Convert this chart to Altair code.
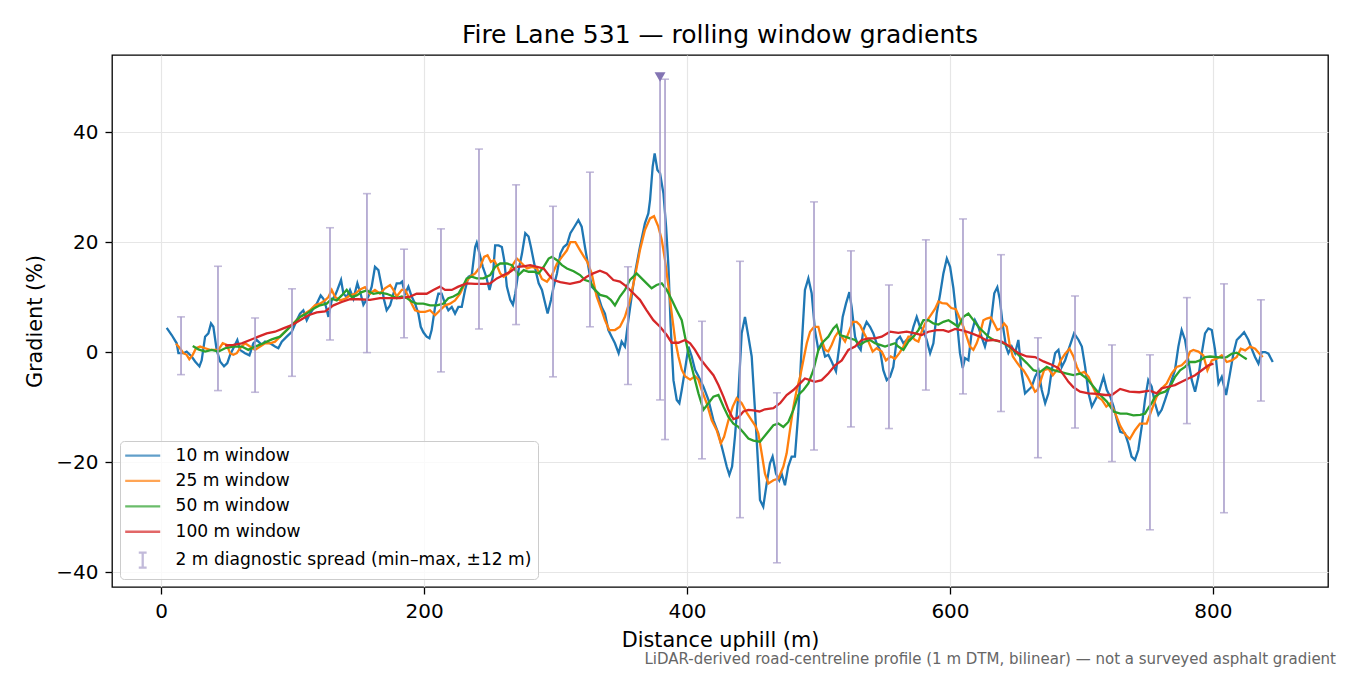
import altair as alt
import pandas as pd

TITLE = "Fire Lane 531 — rolling window gradients"
X_TITLE = "Distance uphill (m)"
Y_TITLE = "Gradient (%)"
FOOTNOTE = "LiDAR-derived road-centreline profile (1 m DTM, bilinear) — not a surveyed asphalt gradient"

SERIES = ["10 m window", "25 m window", "50 m window", "100 m window",
          "2 m diagnostic spread (min–max, ±12 m)"]
COLORS = ["#1f77b4", "#ff7f0e", "#2ca02c", "#d62728", "#a99ecb"]
MARKER_COLOR = "#8374b3"

x_ticks = [0, 200, 400, 600, 800]
y_ticks = [-40, -20, 0, 20, 40]

# 10 m window (distance m, gradient %)
w10 = [(4.3,4.4),(8.1,3.1),(11.9,1.6),(13.2,-0.2),(17,-0.2),(19.5,0.1),(23.3,-0.8),(25.9,-1.7),(29.2,-2.6),(30.9,-1.5),
       (33.5,2.8),(36,3.4),(38,5.2),(39.8,4.6),(42.3,0.4),(44.9,-1.7),(47.9,-2.6),(50.4,-2.0),(52.5,-0.5),(55,0.7),
       (58,2.2),(60,0.4),(63.9,-0.2),(67.2,-0.6),(70.2,1.6),(72.7,2.2),(76.6,1.3),(79.1,1.9),(82.9,1.6),(86.7,1.0),
       (89.2,0.7),(91.8,1.9),(95.6,2.8),(99.4,3.7),(103.2,5.8),(105.7,7.0),(108.2,7.6),(110.8,5.8),(113.3,7.0),(115.9,7.9),
       (118.4,8.8),(121.4,10.3),(123.5,9.7),(125.5,8.2),(127.3,6.4),(129.8,9.4),(132.4,10.3),(134.1,11.3),(136.9,13.1),(138.7,10.6),
       (141.2,10.0),(143.7,11.3),(146.3,9.7),(149.3,12.5),(151.9,10.5),(153.9,8.6),(157.7,10.1),(160.2,11.9),(162.7,15.5),(165.3,14.9),
       (167.8,11.9),(169.6,9.5),(171.6,7.6),(174.2,8.5),(176.7,10.6),(179.2,12.5),(181.8,12.5),(183.3,12.8),(185.6,10.6),(188.1,11.9),
       (190.6,10.1),(193.2,8.8),(195.7,7.0),(197.5,4.6),(199.5,3.6),(202.0,2.8),(204.1,2.5),(205.8,4.0),(208.4,8.2),(210.9,10.6),
       (213.4,10.6),(216.0,8.8),(218.5,7.6),(221.1,8.2),(223.6,7.0),(226.1,8.2),(228.7,8.2),(231.2,11.3),(233.8,13.7),(236.3,14.0),
       (238.9,19.1),(240.1,19.9),(242.2,17.9),(244.7,15.5),(247.3,13.7),(249.8,11.3),(252.3,13.7),(254.1,19.4),(256.7,19.4),(259.2,19.1),
       (261.0,16.7),(263.0,11.9),(265.6,9.5),(267.6,8.6),(269.4,10.6),(271.9,14.9),(274.5,17.9),(277.0,21.6),(279.5,21.0),(281.3,19.1),
       (283.3,16.7),(285.4,14.3),(287.2,12.5),(289.7,11.3),(292.2,8.8),(294.0,7.0),(296.6,9.5),(298.6,11.9),(301.1,14.3),(303.7,17.9),
       (306.2,19.1),(308.8,19.6),(311.3,21.6),(313.9,22.6),(317.4,24.0),(319.9,22.8),(322.4,19.1),(325.0,15.5),(327.5,11.9),(330.0,11.3),
       (332.6,10.1),(335.1,8.2),(337.6,7.0),(340.2,4.0),(342.7,2.8),(345.2,1.6),(348.0,-0.2),(350.3,1.9),(352.8,1.0),(355.4,5.8),
       (357.9,10.1),(360.4,14.3),(364.2,19.1),(368.0,23.4),(370.6,25.2),(371.9,27.6),(373.9,33.7),(375.4,36.1),(377.5,33.1),(379.5,32.5),
       (382.1,28.8),(384.1,22.8),(385.9,15.5),(387.6,4.6),(389.7,-5.1),(392.2,-8.7),(394.2,-9.3),(396.0,-6.9),(398.5,-3.2),(401.1,1.0),
       (403.6,-0.8),(406.1,-3.2),(408.7,-4.4),(412.5,-6.3),(416.3,-8.7),(420.1,-12.4),(423.9,-14.8),(427.7,-18.4),(430.2,-20.8),(432.2,-22.3),
       (434.3,-20.8),(436.5,-15.3),(439.1,-7.5),(441.6,3.4),(444.1,6.4),(446.7,2.8),(449.2,-0.8),(451.7,-10.5),(454.3,-21.4),(455.5,-26.9),
       (458.0,-28.1),(460.6,-23.9),(463.1,-20.2),(465.1,-19.0),(467.7,-22.1),(470.2,-23.3),(472.0,-22.1),(474.5,-24.2),(477.0,-20.8),(479.6,-19.0),
       (482.1,-19.0),(484.6,-11.2),(487.2,1.0),(489.7,11.3),(492.3,13.4),(494.8,10.7),(497.3,4.0),(499.9,0.4),(502.4,1.6),(505.0,-0.8),
       (507.5,-0.5),(510.0,-1.7),(513.3,-3.5),(515.8,1.0),(518.4,6.4),(520.9,8.8),(523.5,10.9),(525.2,8.2),(527.8,2.8),(530.3,1.0),
       (532.1,0.4),(534.1,4.0),(536.6,5.5),(539.2,4.6),(541.7,3.4),(544.2,1.6),(546.8,0.4),(549.3,-3.3),(551.9,-5.1),(554.4,-4.5),
       (556.9,-2.7),(559.5,2.2),(562.0,2.8),(564.6,1.6),(567.1,2.2),(569.6,2.2),(572.2,4.6),(574.7,6.4),(577.2,4.6),(579.8,4.0),
       (582.3,2.2),(584.9,-0.2),(587.4,1.6),(589.9,7.0),(592.5,10.5),(595.0,14.3),(597.6,17.0),(600.1,15.5),(602.6,11.6),(605.2,5.8),
       (607.6,-0.2),(609.7,-2.9),(611.4,-1.1),(614.0,-1.5),(616.4,3.4),(619.0,5.8),(621.6,4.6),(624.0,2.8),(626.6,1.0),(629.1,3.4),
       (631.6,6.4),(633.7,10.7),(636.0,11.8),(638.0,9.5),(640.0,5.2),(642.6,1.0),(644.4,-0.2),(647.0,1.0),(649.5,-0.2),(652.0,2.2),
       (654.6,-3.9),(657.1,-7.5),(659.7,-6.9),(662.2,-6.3),(664.7,-4.5),(667.3,-3.3),(669.8,-6.9),(672.4,-9.3),(674.9,-7.5),(677.4,-3.3),
       (680.0,-0.2),(682.5,0.4),(685.0,-2.7),(687.6,-1.5),(690.1,0.4),(692.7,2.2),(694.4,3.4),(697.8,2.2),(700.3,1.0),(702.8,-2.7),
       (705.4,-7.5),(707.9,-9.9),(710.5,-8.7),(713.0,-7.5),(716.8,-4.5),(719.3,-6.9),(721.9,-8.1),(724.4,-9.9),(727.0,-12.4),(729.5,-14.5),
       (733.1,-14.8),(735.6,-16.6),(738.1,-19.0),(740.7,-19.6),(743.2,-17.8),(745.8,-13.6),(748.3,-8.7),(750.8,-5.1),(753.4,-6.3),(755.9,-9.3),
       (758.5,-11.4),(761.0,-10.5),(763.6,-8.7),(766.0,-6.9),(768.6,-5.1),(771.1,-3.3),(773.7,1.0),(776.2,4.0),(778.8,2.2),(781.3,-1.5),
       (783.9,-5.1),(786.4,-7.2),(788.9,-4.5),(791.5,-0.2),(794.0,3.4),(796.5,4.3),(799.1,4.0),(801.6,0.4),(804.2,-5.7),(806.7,-4.5),
       (810.0,-7.8),(812.5,-4.5),(815.6,-0.2),(818.1,2.2),(820.6,2.8),(823.7,3.6),(827.0,2.2),(829.5,0.6),(832.0,-0.9),(834.6,-2.1),
       (837.1,0.0),(839.7,0.0),(842.2,-0.3),(845.5,-1.8)]

# 25 m window
w25 = [(11.4,1.5),(14.4,0.7),(17,-0.2),(19.5,-0.5),(21.5,-1.3),(24.1,-0.5),(26.6,0.7),(29.7,1.0),(33.5,0.7),(37.3,0.4),
       (41.1,0.4),(43.6,0.4),(46.9,1.6),(50,1.3),(52.5,-0.2),(55,-0.5),(57.6,-0.2),(60.1,0.7),(63.9,1.6),(67.7,1.0),
       (71.5,0.4),(75.3,1.0),(79.1,1.6),(82.9,1.6),(86.7,1.9),(90.5,2.8),(94.3,3.7),(98.1,4.6),(101.9,5.5),(105.7,6.4),
       (109.5,7.0),(113.3,7.6),(117.1,8.5),(120.9,8.8),(124.7,9.4),(127.3,10.0),(129.8,11.3),(132.4,10.0),(136.1,9.4),(139.9,9.7),
       (143.7,10.3),(147.6,10.6),(151.4,11.4),(155.1,11.8),(158.9,10.6),(162.7,11.3),(166.5,10.6),(170.3,11.6),(174.2,12.2),(176.7,11.3),
       (179.2,10.1),(183.1,11.3),(185.6,11.3),(188.1,10.1),(190.6,8.8),(193.2,7.6),(197.0,7.3),(200.8,7.3),(204.6,7.6),(208.4,6.7),
       (212.2,7.6),(216.0,8.5),(219.8,8.8),(223.6,9.4),(227.4,10.6),(231.2,12.5),(235.1,13.7),(238.9,14.3),(242.7,15.5),(245.7,17.3),
       (248.3,17.6),(250.8,16.4),(253.3,16.7),(255.4,15.8),(257.9,14.3),(260.5,13.7),(264.3,14.3),(268.1,16.1),(270.6,17.0),(274.5,16.1),
       (278.3,15.2),(282.1,15.5),(285.9,15.2),(289.7,13.3),(293.5,12.8),(297.3,14.0),(301.1,16.1),(304.9,17.3),(308.7,18.5),(311.3,20.0),
       (315.1,20.0),(318.7,18.5),(321.7,17.3),(324.2,16.4),(327.5,14.3),(331.3,10.1),(335.1,7.6),(337.6,5.8),(340.9,4.0),(345.2,4.0),
       (349.0,4.6),(352.8,6.4),(356.6,9.4),(360.4,13.7),(364.2,18.5),(368.0,22.2),(371.9,24.3),(374.9,24.7),(378.2,22.8),(380.8,20.4),
       (383.3,16.7),(385.9,11.9),(388.4,7.0),(391.0,2.2),(393.5,-0.8),(396.0,-3.2),(398.5,-4.4),(402.4,-5.0),(406.1,-4.4),(408.7,-5.0),
       (411.2,-6.9),(415.0,-9.3),(418.8,-12.4),(422.6,-14.2),(425.7,-16.6),(428.2,-15.4),(431.5,-12.4),(434.8,-9.9),(437.8,-8.4),(441.6,-9.3),
       (445.4,-11.0),(449.2,-12.4),(452.0,-13.4),(454.3,-14.8),(456.8,-18.4),(459.3,-22.1),(461.9,-23.9),(465.7,-23.3),(469.5,-23.0),(473.3,-20.8),
       (475.8,-18.4),(478.3,-14.2),(480.9,-10.0),(483.4,-6.9),(486.0,-4.5),(488.5,-1.5),(491.1,1.6),(493.6,3.7),(496.6,4.6),(499.9,4.6),
       (502.4,2.2),(505.0,0.4),(507.5,0.1),(510.0,1.3),(512.6,2.8),(515.1,3.7),(517.7,2.8),(520.2,1.9),(522.7,3.4),(526.0,5.5),
       (529.0,5.5),(531.6,4.9),(534.7,3.4),(538.0,1.9),(541.2,0.1),(544.2,0.7),(548.1,0.1),(551.3,-1.5),(554.9,-0.8),(558.2,-1.2),
       (561.5,-0.2),(564.6,1.0),(568.4,2.8),(570.9,2.8),(573.5,2.2),(576.0,1.9),(578.5,3.7),(581.1,5.2),(583.6,6.1),(586.2,7.0),
       (588.7,7.9),(591.2,9.2),(594.0,8.9),(597.6,8.8),(601.0,8.0),(604.5,7.8),(607.3,6.2),(610.2,4.6),(612.7,2.8),(615.2,1.0),
       (617.8,0.4),(620.3,1.6),(622.9,3.4),(625.4,5.8),(627.9,6.1),(631.0,6.3),(633.5,5.2),(636.0,4.0),(638.6,4.3),(641.1,5.2),
       (643.2,4.6),(645.2,1.6),(647.8,-0.8),(650.3,-1.7),(653.4,-2.7),(655.9,-3.3),(659.0,-4.5),(662.2,-6.0),(664.7,-7.2),(666.5,-6.9),
       (669.1,-5.1),(671.6,-3.3),(674.9,-3.0),(678.2,-4.2),(681.2,-3.3),(684.3,-1.5),(687.6,-0.3),(690.9,0.6),(693.9,-0.8),(696.5,-2.7),
       (699.0,-3.9),(702.1,-3.6),(705.4,-4.5),(708.7,-6.3),(712.2,-8.1),(715.6,-8.7),(718.9,-9.9),(721.9,-9.3),(725.7,-11.1),(729.5,-13.4),
       (733.3,-15.0),(736.8,-15.8),(740.7,-14.2),(744.5,-13.0),(749.6,-13.0),(753.4,-10.5),(757.2,-8.1),(761.0,-6.6),(764.8,-5.7),(768.6,-3.9),
       (772.4,-2.7),(776.2,-2.4),(780.0,-1.5),(782.6,0.1),(785.1,0.4),(788.9,0.1),(792.7,-0.6),(795.8,-3.3),(799.1,-1.5),(802.9,-1.2),
       (806.7,-0.6),(810.5,-1.8),(814.3,-1.5),(818.1,-0.9),(821.2,0.6),(824.5,0.3),(828.3,1.0),(832.1,0.6),(835.4,-0.3),(837.9,-0.9)]

# 50 m window
w50 = [(24.1,1.1),(28.4,0.5),(33.5,0.1),(38.5,0.4),(43.6,0.1),(48.7,0.7),(55.0,1.0),(61.4,1.0),(66.4,0.4),(71.5,1.0),
       (77.8,1.6),(84.2,2.3),(90.5,2.8),(95.6,4.0),(100.7,5.2),(105.7,6.4),(110.8,7.0),(115.9,7.9),(120.9,8.5),(126.0,8.8),
       (129.8,9.7),(133.6,9.4),(137.4,10.3),(141.2,11.3),(145.0,10.0),(148.8,10.3),(152.7,10.9),(156.4,11.2),(161.5,10.6),(166.5,10.8),
       (171.6,10.6),(176.7,10.1),(179.2,9.8),(183.1,10.1),(186.9,9.8),(190.6,9.2),(194.4,8.8),(199.5,8.8),(204.6,8.5),(209.7,8.5),
       (214.7,8.8),(218.5,9.8),(222.3,10.1),(226.1,10.6),(230.0,12.2),(232.5,13.4),(236.3,13.7),(240.1,13.4),(245.2,13.4),(250.3,14.0),
       (254.1,15.5),(257.9,16.1),(263.0,16.1),(266.9,15.8),(269.4,14.9),(271.9,14.0),(275.8,14.9),(279.6,14.6),(283.4,14.6),(287.2,14.3),
       (291.0,15.5),(294.8,17.0),(297.3,17.3),(301.1,16.7),(304.9,15.8),(308.7,15.2),(313.8,14.7),(318.7,14.0),(322.4,13.1),(326.3,12.8),
       (330.0,11.3),(333.9,10.4),(338.9,10.1),(342.0,9.5),(345.2,8.5),(349.0,10.1),(352.8,11.3),(356.6,13.1),(361.7,14.3),(365.5,13.4),
       (369.3,12.5),(373.1,11.6),(376.9,12.2),(380.8,12.5),(384.6,11.3),(388.4,9.5),(392.2,7.6),(396.0,5.8),(398.5,2.8),(401.1,-0.2),
       (403.6,-2.7),(406.1,-5.1),(408.7,-7.5),(412.5,-10.5),(416.3,-9.3),(420.1,-8.1),(423.9,-7.8),(427.7,-9.9),(431.5,-11.8),(435.3,-13.0),
       (439.1,-13.6),(442.9,-14.6),(446.7,-15.7),(450.5,-16.1),(455.5,-16.3),(460.6,-14.8),(465.7,-13.3),(469.5,-13.0),(473.3,-13.6),(477.1,-12.7),
       (480.9,-10.5),(484.7,-7.8),(488.5,-6.9),(492.3,-5.7),(496.1,-3.3),(499.9,0.4),(503.7,1.9),(507.5,2.8),(511.3,4.3),(513.8,4.9),
       (516.4,3.1),(520.2,2.8),(524.0,2.5),(527.8,2.2),(531.6,1.3),(535.4,1.9),(539.2,2.2),(543.0,1.6),(546.8,1.3),(550.6,1.0),
       (554.4,1.3),(558.2,1.6),(560.7,1.0),(564.6,0.4),(568.4,1.9),(572.2,2.8),(576.0,4.0),(579.8,5.8),(583.6,5.8),(587.4,5.2),
       (591.2,5.0),(595.0,5.5),(598.9,5.8),(602.7,5.2),(606.3,4.6),(610.2,6.4),(614.0,7.0),(617.8,5.8),(621.6,4.6),(625.4,3.7),
       (629.2,2.8),(633.0,2.2),(638.1,1.9),(643.2,1.3),(648.2,0.4),(653.3,-0.8),(658.4,-2.0),(663.5,-3.3),(668.6,-3.6),(673.6,-2.7),
       (678.7,-3.3),(683.8,-3.6),(688.9,-3.9),(693.9,-4.2),(699.0,-3.9),(704.1,-4.8),(709.2,-6.3),(714.3,-7.8),(719.3,-9.0),(724.4,-10.8),
       (729.5,-11.2),(734.5,-11.2),(739.5,-11.5),(744.6,-11.4),(748.3,-11.2),(750.8,-10.2),(753.4,-9.3),(755.9,-8.1),(759.7,-7.5),(763.6,-7.2),
       (767.4,-6.3),(771.2,-4.5),(775.0,-3.3),(778.8,-2.7),(782.6,-1.8),(786.4,-1.8),(790.2,-1.5),(794.0,-0.9),(797.8,-0.8),(802.9,-0.9),
       (806.7,-1.0),(810.5,-0.9),(814.3,-0.3),(818.1,-0.1),(821.2,-0.6),(823.7,-1.0),(825.7,-1.3)]

# 100 m window
w100 = [(48.7,1.2),(55,1.3),(61.4,1.6),(67.7,2.2),(74.0,2.8),(80.4,3.4),(86.7,3.7),(93.0,4.3),(99.4,4.9),(105.7,5.8),
        (112.1,6.7),(118.4,7.2),(124.7,7.4),(131.1,8.5),(137.4,9.1),(143.7,9.6),(150.1,9.6),(158.9,9.5),(166.5,9.8),(174.2,9.8),
        (181.8,9.8),(189.4,10.1),(194.4,10.6),(202.0,10.6),(207.1,11.3),(212.2,11.9),(216.0,11.3),(221.1,11.3),(226.1,11.9),(232.5,12.5),
        (238.9,12.4),(246.5,12.4),(250.3,12.5),(255.4,13.4),(260.5,14.0),(265.6,14.6),(270.6,15.5),(275.8,15.6),(280.8,15.8),(285.9,15.5),
        (291.0,15.2),(294.8,14.0),(298.6,13.1),(303.6,12.7),(311.0,12.4),(318.6,12.8),(323.7,13.7),(328.7,14.3),(333.8,14.8),(338.9,14.3),
        (344.0,13.1),(349.0,12.8),(354.1,11.9),(359.2,10.7),(364.2,9.5),(369.3,7.6),(374.4,5.8),(379.5,4.6),(384.6,3.1),(388.4,1.7),
        (393.5,1.7),(398.5,2.2),(402.4,1.6),(406.1,0.4),(410.0,-1.2),(415.0,-2.7),(420.1,-4.2),(423.9,-6.0),(427.7,-8.1),(431.5,-10.5),
        (435.3,-12.2),(439.1,-11.9),(442.9,-10.8),(446.7,-10.5),(450.5,-10.6),(455.1,-10.8),(459.3,-10.4),(465.7,-10.2),(470.8,-9.3),(475.8,-7.8),
        (480.9,-6.9),(486.0,-5.7),(489.7,-4.8),(493.6,-5.1),(497.3,-5.4),(502.4,-5.1),(507.5,-3.9),(512.6,-2.4),(517.7,-1.5),(522.7,0.4),
        (527.8,1.0),(532.9,2.2),(538.0,2.5),(543.0,2.5),(548.1,2.8),(554.4,3.7),(560.7,3.5),(567.1,3.7),(573.5,3.4),(578.5,3.1),
        (583.6,3.7),(589.9,4.0),(595.0,4.0),(598.9,3.7),(603.9,4.2),(610.2,3.9),(616.5,3.4),(622.9,2.8),(627.9,2.1),(633.0,2.2),
        (639.3,1.9),(645.7,1.0),(652.0,-0.2),(658.4,-0.8),(664.7,-0.9),(671.1,-1.7),(677.4,-2.3),(682.5,-2.9),(686.3,-4.1),(690.1,-5.4),
        (693.9,-6.4),(699.0,-7.2),(705.4,-7.5),(711.7,-7.6),(718.1,-7.8),(723.1,-7.8),(729.4,-6.7),(736.4,-7.2),(744.0,-7.3),(752.1,-7.0),
        (757.2,-7.5),(761.0,-6.6),(766.0,-6.3),(771.1,-6.0),(776.2,-5.4),(781.3,-4.8),(786.4,-4.2),(791.5,-3.3),(796.6,-2.4),(800.4,-2.1)]

# 2 m diagnostic spread: position, min, max, top clipped at axis cap
spread_m = [15.2, 43.3, 71.5, 99.6, 128.5, 156.6, 184.8, 212.9, 241.8, 270.0, 298.1, 326.2, 355.1, 379.5, 383.3, 411.4,
            440.3, 468.4, 496.6, 524.7, 553.6, 581.7, 609.9, 638.8, 666.9, 695.1, 723.2, 752.1, 780.2, 808.4, 836.5]
spread_lo = [-4.1, -7.0, -7.3, -4.4, 2.2, -0.1, 2.6, -3.6, 4.2, 5.0, -4.5, 4.6, -5.9, -8.7, -15.9, -19.4,
             -30.1, -38.3, -17.8, -13.6, -13.9, -6.9, -7.6, -10.8, -19.2, -13.8, -19.9, -32.3, -13.0, -29.2, -8.9]
spread_hi = [6.4, 15.6, 6.2, 11.5, 22.6, 28.8, 18.7, 22.4, 36.9, 30.4, 26.5, 32.7, 15.5, 50.0, 49.6, 5.6,
             16.5, -7.4, 27.3, 18.4, 12.2, 20.4, 24.2, 17.7, 2.6, 10.2, 1.3, -0.5, 9.9, 12.4, 9.5]
spread_clipped = [False] * 13 + [True] + [False] * 17

# ---------------- data frames ----------------
line_rows = []
for name, pts in zip(SERIES[:4], [w10, w25, w50, w100]):
    for m, g in pts:
        line_rows.append({"m": m, "g": g, "series": name})
lines_df = pd.DataFrame(line_rows)

bars_df = pd.DataFrame({"m": spread_m, "lo": spread_lo, "hi": spread_hi,
                        "clipped": spread_clipped, "series": SERIES[4]})
cap_rows = []
for m, lo, hi, c in zip(spread_m, spread_lo, spread_hi, spread_clipped):
    cap_rows.append({"m": m, "v": lo, "series": SERIES[4]})
    if not c:
        cap_rows.append({"m": m, "v": hi, "series": SERIES[4]})
caps_df = pd.DataFrame(cap_rows)
tri_df = bars_df[bars_df["clipped"]][["m", "hi"]].rename(columns={"hi": "v"})
foot_df = pd.DataFrame({"t": [FOOTNOTE]})

# one (invisible) anchor row per series, used only to build the legend
key_rows = [{"m": pts[0][0], "g": pts[0][1], "series": name}
            for name, pts in zip(SERIES[:4], [w10, w25, w50, w100])]
key_rows.append({"m": spread_m[0], "g": spread_lo[0], "series": SERIES[4]})
key_df = pd.DataFrame(key_rows)

# ---------------- scales / guides ----------------
W, H = 1216, 532
xscale = alt.Scale(domain=[-37.3, 887.5], nice=False, zero=False)
yscale = alt.Scale(domain=[-42.7, 54.0], nice=False, zero=False)
color_scale = alt.Scale(domain=SERIES, range=COLORS)

LINE_PATH = "M-4,0L4,0"
I_PATH = "M0,-1.7L0,1.7M-0.9,-1.7L0.9,-1.7M-0.9,1.7L0.9,1.7"
shape_scale = alt.Scale(domain=SERIES, range=[LINE_PATH] * 4 + [I_PATH])

xaxis = alt.Axis(title=X_TITLE, values=x_ticks, titleY=59, titleBaseline="alphabetic")
yaxis = alt.Axis(title=Y_TITLE, values=y_ticks, titleX=-71, titleY=H / 2,
                 titleBaseline="alphabetic", titleAngle=270)

legend = alt.Legend(
    title=None, orient="bottom-left", offset=8, padding=6,
    fillColor="rgba(255,255,255,0.8)", strokeColor="#cccccc", cornerRadius=4,
    labelFont="DejaVu Sans", labelFontSize=17.1, labelColor="black", labelLimit=600,
    symbolSize=76.6, symbolStrokeWidth=2.3,
    symbolFillColor="transparent", symbolOffset=8.15, labelOffset=24.3, rowPadding=7.4,
)


def xenc():
    return alt.X("m:Q", scale=xscale, axis=xaxis)


def cenc():
    return alt.Color("series:N", scale=color_scale, legend=legend)


layers = []
for name in SERIES[:4]:
    layers.append(
        alt.Chart(lines_df).transform_filter(alt.datum.series == name)
        .mark_line(strokeWidth=2.3)
        .encode(x=xenc(), y=alt.Y("g:Q", scale=yscale, axis=yaxis), color=cenc())
    )

bars = alt.Chart(bars_df).mark_rule(strokeWidth=1.6).encode(
    x=xenc(), y=alt.Y("lo:Q", scale=yscale, axis=yaxis), y2="hi:Q", color=cenc(),
)
caps = alt.Chart(caps_df).mark_tick(orient="horizontal", size=8, thickness=1.6).encode(
    x=xenc(), y=alt.Y("v:Q", scale=yscale, axis=yaxis), color=cenc(),
)
tri = alt.Chart(tri_df).mark_point(shape="triangle-down", filled=True, size=120,
                                   color=MARKER_COLOR, opacity=1).encode(
    x=xenc(), y=alt.Y("v:Q", scale=yscale, axis=yaxis),
)
key = alt.Chart(key_df).mark_point(filled=False, opacity=0, strokeWidth=2.3,
                                   strokeJoin="round", strokeCap="butt").encode(
    x=xenc(), y=alt.Y("g:Q", scale=yscale, axis=yaxis), color=cenc(),
    shape=alt.Shape("series:N", scale=shape_scale, legend=legend),
)
foot = alt.Chart(foot_df).mark_text(align="right", baseline="alphabetic", fontSize=15,
                                    color="#666666", font="DejaVu Sans").encode(
    text="t:N", x=alt.value(W + 8), y=alt.value(H + 77),
)

chart = (
    alt.layer(*layers, bars, caps, tri, key, foot)
    .properties(
        width=W, height=H,
        title=alt.TitleParams(TITLE, anchor="middle", frame="group", offset=-13,
                              baseline="alphabetic", font="DejaVu Sans", fontSize=25,
                              fontWeight="normal", color="black"),
        padding={"left": 104, "top": 47, "right": 14, "bottom": 81},
        autosize=alt.AutoSizeParams(type="none"),
    )
    .configure(font="DejaVu Sans")
    .configure_view(stroke="black", strokeWidth=1.3)
    .configure_axis(
        labelFont="DejaVu Sans", labelFontSize=20, labelColor="black", labelPadding=7,
        titleFont="DejaVu Sans", titleFontSize=20.8, titleFontWeight="normal", titleColor="black",
        tickColor="black", tickSize=7, tickWidth=1.3, domain=False,
        grid=True, gridColor="#e6e6e6", gridWidth=1.2,
    )
)

chart.save("out.html", embed_options={"renderer": "svg", "actions": False})
